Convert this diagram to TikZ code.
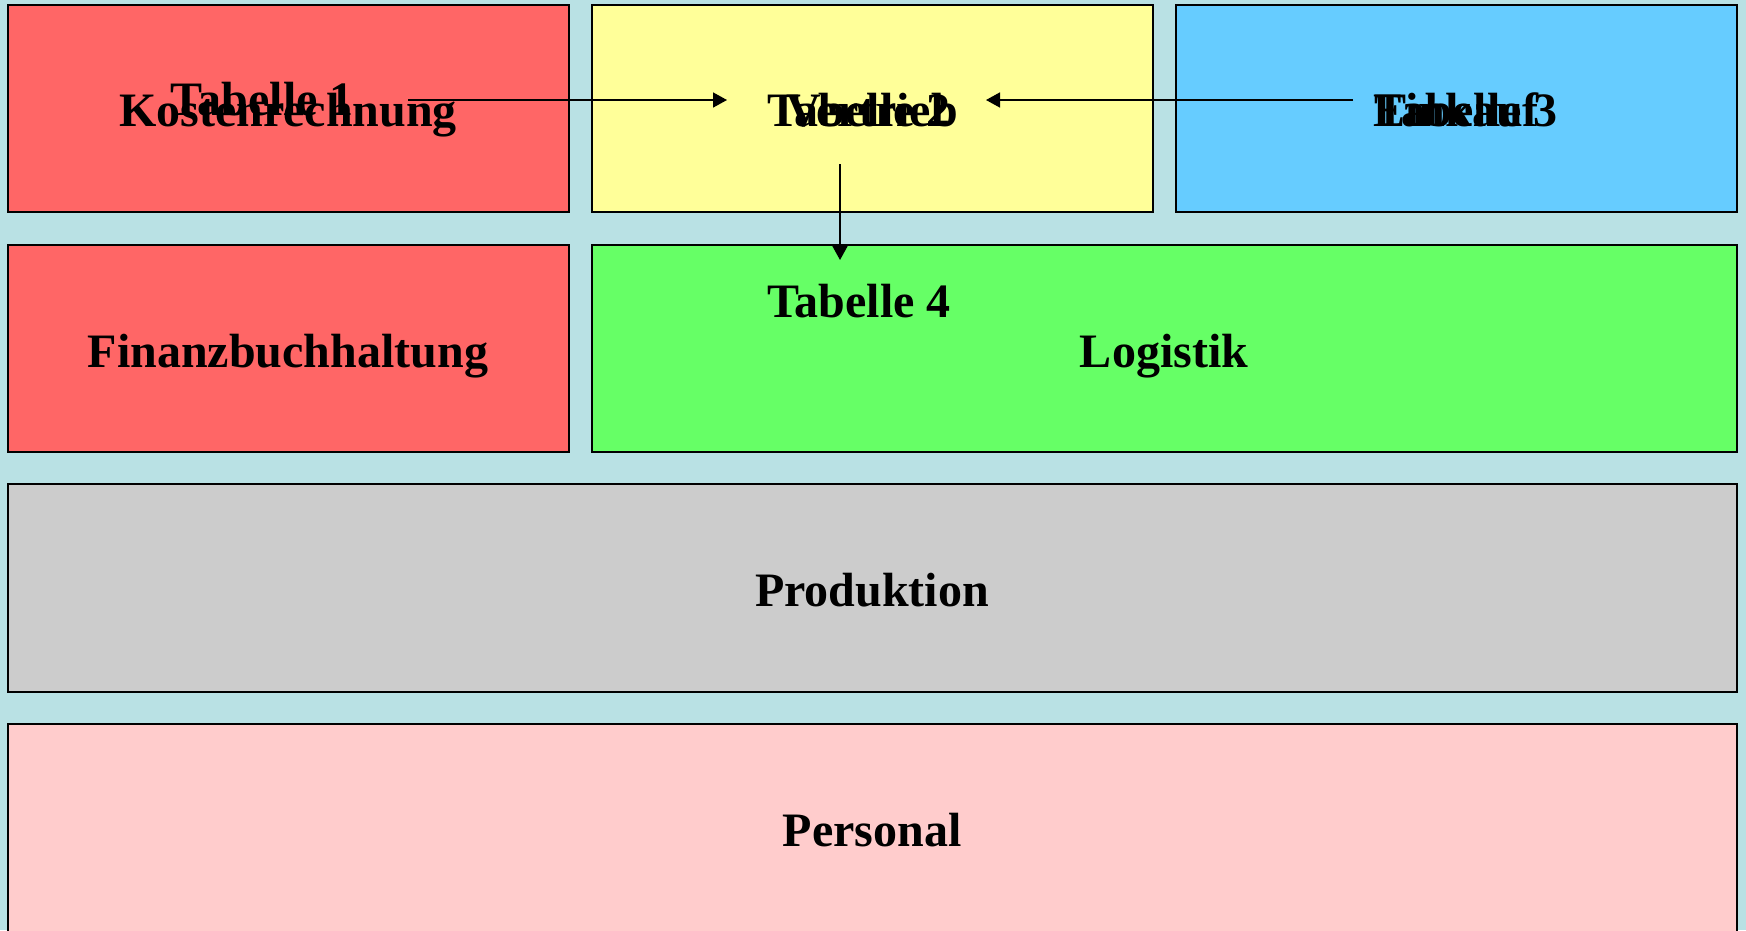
\documentclass[tikz,border=0pt]{standalone}
\usepackage{fontspec}
\setmainfont{Liberation Serif}
\usetikzlibrary{arrows.meta}
\definecolor{bgc}{RGB}{185,225,228}
\definecolor{redc}{HTML}{FF6666}
\definecolor{yelc}{HTML}{FFFF99}
\definecolor{bluc}{HTML}{66CCFF}
\definecolor{grnc}{HTML}{66FF66}
\definecolor{gryc}{HTML}{CCCCCC}
\definecolor{pnkc}{HTML}{FFCCCC}
\tikzset{
  box/.style={draw=black, line width=2pt, rectangle, minimum height=207.3pt, inner sep=0pt},
  lbl/.style={inner sep=0pt, anchor=base, font=\fontsize{48}{56}\selectfont\bfseries},
  arr/.style={line width=1.6pt, -{Triangle[length=14pt,width=15pt]}}
}
\begin{document}
\begin{tikzpicture}[x=1pt,y=-1pt]
\clip (0,0) rectangle (1746,930);
\fill[bgc] (0,0) rectangle (1746,930);
% boxes
\node[box, fill=redc, minimum width=561.3pt] (kostbox) at (288.4,108.4) {};
\node[box, fill=yelc, minimum width=561pt] (vertbox) at (872.5,108.4) {};
\node[box, fill=bluc, minimum width=561pt] (einkbox) at (1456.5,108.4) {};
\node[box, fill=redc, minimum width=561.3pt] (fibubox) at (288.4,348.5) {};
\node[box, fill=grnc, minimum width=1145pt] (logbox) at (1164.5,348.5) {};
\node[box, fill=gryc, minimum width=1729.3pt, minimum height=208pt] (prodbox) at (872.4,588) {};
\node[box, fill=pnkc, minimum width=1729.3pt, minimum height=208pt] (persbox) at (872.4,828) {};
% labels
\node[lbl] (kr) at (288,126) {Kostenrechnung};
\node[lbl] (t1) at (262,115) {Tabelle 1};
\node[lbl] (vt) at (872,126) {Vertrieb};
\node[lbl] (t2) at (859,126) {Tabelle 2};
\node[lbl] (ek) at (1456,126) {Einkauf};
\node[lbl] (t3) at (1466,126) {Tabelle 3};
\node[lbl] (fb) at (288,367) {Finanzbuchhaltung};
\node[lbl] (lg) at (1164,367) {Logistik};
\node[lbl] (t4) at (859,317) {Tabelle 4};
\node[lbl] (pr) at (872,606) {Produktion};
\node[lbl] (ps) at (872,846) {Personal};
% connector ends
\coordinate (a1s) at (408,100);
\coordinate (a1e) at (727,100);
\coordinate (a2s) at (1353,100);
\coordinate (a2e) at (986,100);
\coordinate (a3s) at (840,164);
\coordinate (a3e) at (840,260);
\draw[arr] (a1s) -- (a1e);
\draw[arr] (a2s) -- (a2e);
\draw[arr] (a3s) -- (a3e);
\end{tikzpicture}
\end{document}
